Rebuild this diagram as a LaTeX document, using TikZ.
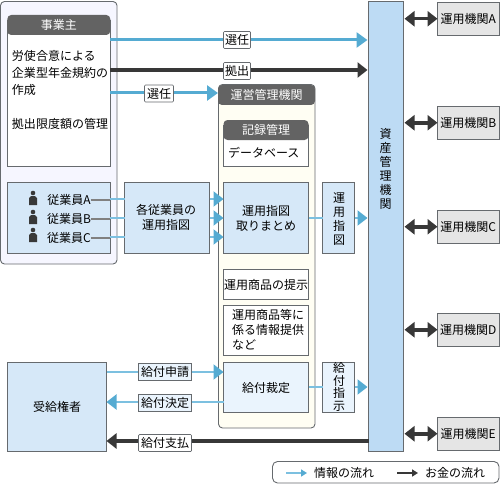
\documentclass[tikz,border=0pt]{standalone}
\usepackage{fontspec}
\setmainfont{Noto Sans CJK JP}
\usetikzlibrary{arrows.meta,positioning}
\definecolor{edge}{HTML}{666A6E}
\definecolor{headgray}{HTML}{636363}
\definecolor{paleblue}{HTML}{D6E8F8}
\definecolor{palerblue}{HTML}{EAF4FD}
\definecolor{midblue}{HTML}{BDDBF4}
\definecolor{lilac}{HTML}{F6F6FF}
\definecolor{cream}{HTML}{FFFEF3}
\definecolor{flow}{HTML}{55ABD2}
\definecolor{flowlight}{HTML}{7CC0E0}
\definecolor{money}{HTML}{383838}
\definecolor{bank}{HTML}{E5E5E5}
\tikzset{
  x=1pt,y=-1pt,
  every node/.style={font=\fontsize{12}{15}\selectfont,inner sep=0pt,outer sep=0pt},
  boxst/.style={draw=edge,line width=0.9pt,rectangle,anchor=north west,align=center},
  panel/.style={draw=edge,line width=0.9pt,rounded corners=4pt},
  headst/.style={fill=headgray,text=white,rounded corners=4pt,anchor=center},
  tag/.style={draw=edge,line width=0.7pt,fill=white,rounded corners=1pt,minimum height=17pt,anchor=center},
  infotag/.style={tag,fill=palerblue,rounded corners=0pt},
  info/.style={draw=flow,line width=3pt,-{Triangle[length=11pt,width=15pt,fill=flow]}},
  infothin/.style={draw=flowlight,line width=2pt,-{Triangle[length=10pt,width=15pt,fill=flow,color=flow]}},
  infoplain/.style={draw=flowlight,line width=2pt},
  cash/.style={draw=money,line width=3.5pt,-{Triangle[length=10pt,width=15pt,fill=money]}},
  cashboth/.style={draw=money,line width=3.5pt,{Triangle[length=10pt,width=15pt,fill=money]}-{Triangle[length=10pt,width=15pt,fill=money]}},
  person/.style={fill=money,draw=none},
}
\newcommand{\wbox}[6]{\node[boxst,fill=#6,minimum width=#4-#2,minimum height=#5-#3] (#1) at (#2,#3) {};}
\begin{document}
\begin{tikzpicture}
\useasboundingbox (0,0) rectangle (500,484);
% panels
\draw[panel,fill=lilac] (0.5,1.5) rectangle (117,264);
\draw[panel,fill=cream] (218.5,84.5) rectangle (315,428);
% employer
\wbox{owner}{7.5}{20}{110}{166}{white}
\node[headst,minimum width=103pt,minimum height=20pt] (ownerh) at (58.8,25) {事業主};
\node[anchor=north west,align=left,font=\fontsize{12}{17}\selectfont] (ownertxt) at (12,50) {労使合意による\\企業型年金規約の\\作成\\[17pt]拠出限度額の管理};
% employees
\wbox{emp}{7.5}{182.5}{110}{253}{paleblue}
\node (empA) at (69,200) {従業員A};
\node (empB) at (69,219) {従業員B};
\node (empC) at (69,238) {従業員C};
\foreach \n/\y in {pa/199,pb/218,pc/236}{
  \fill[person] (33,\y-6) circle (2.3);
  \fill[person] (29,\y+6) -- (29,\y-1) -- (31,\y-3) -- (35,\y-3) -- (37,\y-1) -- (37,\y+6) -- cycle;
}
% instruction box
\wbox{each}{124.5}{182.5}{209.5}{253}{paleblue}
\node[align=center] (eachtxt) at (166,217) {各従業員の\\運用指図};
% RK org
\node[headst,minimum width=97pt,minimum height=20pt] (rkh) at (266.5,95) {運営管理機関};
\wbox{rec}{223.5}{125}{308.5}{166}{white}
\node[headst,minimum width=85pt,minimum height=20pt] (rech) at (266,130) {記録管理};
\node[anchor=west] (dbtxt) at (228,153) {データベース};
\wbox{sum}{223.5}{182.5}{308.5}{253}{paleblue}
\node[align=center] (sumtxt) at (266,218) {運用指図\\取りまとめ};
\wbox{prod}{223.5}{269.5}{308.5}{299}{white}
\node (prodtxt) at (266,285) {運用商品の提示};
\wbox{prov}{223.5}{305.5}{308.5}{355}{white}
\node[anchor=north west,align=left] (provtxt) at (232,309) {運用商品等に\\係る情報提供\\など};
\wbox{pay}{223.5}{362.5}{308.5}{412}{palerblue}
\node (paytxt) at (266,388) {給付裁定};
\wbox{inst}{322.5}{182.5}{354.5}{253}{paleblue}
\node[align=center,font=\fontsize{12}{14}\selectfont] (insttxt) at (339,219) {運\\用\\指\\図};
\wbox{payinst}{322.5}{362.5}{354.5}{412}{palerblue}
\node[align=center,font=\fontsize{12}{12.5}\selectfont] (payinsttxt) at (339,387) {給\\付\\指\\示};
% beneficiary
\wbox{ben}{7.5}{362.5}{106.5}{451}{paleblue}
\node (bentxt) at (57,407) {受給権者};
% custodian
\wbox{cust}{368.5}{1.5}{403.5}{451}{midblue}
\node[align=center,font=\fontsize{12}{14}\selectfont] (custtxt) at (385.5,169) {資\\産\\管\\理\\機\\関};
% banks
\wbox{bankA}{437.5}{2.5}{499}{35}{bank}
\wbox{bankB}{437.5}{106.5}{499}{139}{bank}
\wbox{bankC}{437.5}{210.5}{499}{243}{bank}
\wbox{bankD}{437.5}{313.5}{499}{346}{bank}
\wbox{bankE}{437.5}{417.5}{499}{450}{bank}
\node at (bankA.center) {運用機関A};
\node at (bankB.center) {運用機関B};
\node at (bankC.center) {運用機関C};
\node at (bankD.center) {運用機関D};
\node at (bankE.center) {運用機関E};
% connectors
\draw[info] (owner.east |- 0,40) -- ([xshift=-1pt]cust.west |- 0,40);
\draw[cash] (owner.east |- 0,70) -- ([xshift=-1pt]cust.west |- 0,70);
\draw[info] (owner.east |- 0,93) -- (rkh.west |- 0,93);
\node[tag,minimum width=27pt] (t1) at (237,40) {選任};
\node[tag,minimum width=27pt] (t2) at (237,71) {拠出};
\node[tag,minimum width=29pt] (t3) at (159,93.5) {選任};
\foreach \y/\s in {199/A,218/B,237/C}{
  \draw[draw=gray,line width=2pt] (emp\s.east) -- (emp.east |- emp\s.east);
  \draw[infoplain] (emp.east |- 0,\y) -- (each.west |- 0,\y);
  \draw[infothin] (each.east |- 0,\y) -- (sum.west |- 0,\y);
}
\draw[infoplain] (sum.east |- 0,218) -- (inst.west |- 0,218);
\draw[infothin] (inst.east |- 0,218) -- ([xshift=-1pt]cust.west |- 0,218);
\draw[infothin] (ben.east |- 0,372) -- (pay.west |- 0,372);
\draw[infothin] (pay.west |- 0,402) -- (ben.east |- 0,402);
\node[infotag,minimum width=53pt] (t4) at (165,372) {給付申請};
\node[infotag,minimum width=53pt] (t5) at (165,403) {給付決定};
\draw[infoplain] (pay.east |- 0,387) -- (payinst.west |- 0,387);
\draw[infothin] (payinst.east |- 0,387) -- ([xshift=-1pt]cust.west |- 0,387);
\draw[cash] (cust.west |- 0,441) -- (ben.east |- 0,441);
\node[tag,minimum width=53pt] (t6) at (165,443) {給付支払};
\draw[cashboth] ([xshift=1pt]cust.east |- bankA.west) -- (bankA.west);
\draw[cashboth] ([xshift=1pt]cust.east |- bankB.west) -- (bankB.west);
\draw[cashboth] ([xshift=1pt]cust.east |- bankC.west) -- (bankC.west);
\draw[cashboth] ([xshift=1pt]cust.east |- bankD.west) -- (bankD.west);
\draw[cashboth] ([xshift=1pt]cust.east |- bankE.west) -- (bankE.west);
% legend
\draw[panel,fill=white,rounded corners=5pt] (272.5,461.5) rectangle (499,483);
\coordinate (l1a) at (286,473);
\coordinate (l1b) at (307,473);
\coordinate (l2a) at (397,473);
\coordinate (l2b) at (418,473);
\draw[draw=flowlight,line width=2pt,-{Triangle[length=6pt,width=7pt,fill=flow,color=flow]}] (l1a) -- (l1b);
\draw[draw=money,line width=1.5pt,-{Triangle[length=6pt,width=7pt,fill=money]}] (l2a) -- (l2b);
\node[anchor=west] (lg1) at (314,473) {情報の流れ};
\node[anchor=west] (lg2) at (425,473) {お金の流れ};
\end{tikzpicture}
\end{document}
